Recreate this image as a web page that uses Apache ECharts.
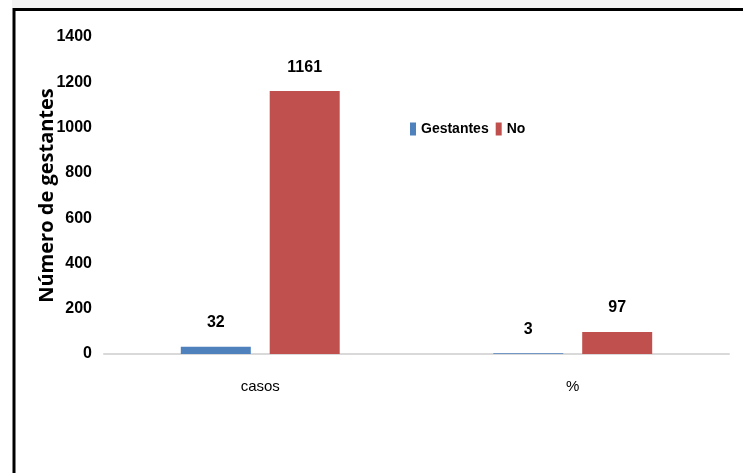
<!DOCTYPE html>
<html>
<head>
<meta charset="utf-8">
<script src="https://cdn.jsdelivr.net/npm/echarts@6/dist/echarts.min.js"></script>
<style>
  html, body { margin: 0; padding: 0; background: #ffffff; }
  #chart { width: 743px; height: 473px; }
</style>
</head>
<body>
<div id="chart"></div>
<script>
// Categories and series values
const categories = ['casos', '%'];
const gestantes = [32, 3];
const noGestantes = [1161, 97];
const seriesNames = ['Gestantes', 'No'];
const yTicks = { min: 0, max: 1400, interval: 200 };
const yAxisTitle = 'Número de gestantes';

const sans = "'Liberation Sans', Arial, sans-serif";

const chart = echarts.init(document.getElementById('chart'), null, { renderer: 'canvas' });

const valueLabel = {
  show: true,
  position: 'top',
  distance: 16,
  color: '#000000',
  fontFamily: sans,
  fontWeight: 'bold',
  fontSize: 16
};

chart.setOption({
  backgroundColor: '#ffffff',
  animation: false,
  graphic: [
    { type: 'rect', shape: { x: 12, y: 0, width: 718, height: 8 }, style: { fill: '#f4f4f4' }, silent: true },
    { type: 'line', shape: { x1: 13, y1: 9.5, x2: 743, y2: 9.5 }, style: { stroke: '#000000', lineWidth: 3 }, silent: true },
    { type: 'line', shape: { x1: 14, y1: 8, x2: 14, y2: 473 }, style: { stroke: '#000000', lineWidth: 3 }, silent: true }
  ],
  legend: {
    data: seriesNames,
    left: 405,
    top: 117,
    itemWidth: 6,
    itemHeight: 13,
    itemGap: 7,
    icon: 'rect',
    textStyle: { fontFamily: sans, fontWeight: 'bold', fontSize: 14, color: '#000000' }
  },
  grid: { left: 104, right: 14, top: 37, bottom: 119, containLabel: false },
  xAxis: {
    type: 'category',
    data: categories,
    axisLine: { show: true, lineStyle: { color: '#d9d9d9', width: 2 } },
    axisTick: { show: false },
    axisLabel: { margin: 25, color: '#000000', fontFamily: sans, fontSize: 15 }
  },
  yAxis: {
    type: 'value',
    min: yTicks.min,
    max: yTicks.max,
    interval: yTicks.interval,
    name: yAxisTitle,
    nameLocation: 'middle',
    nameGap: 47,
    nameMoveOverlap: false,
    nameTextStyle: { fontFamily: "'Open Sans', sans-serif", fontWeight: 'bold', fontSize: 20, color: '#000000' },
    axisLine: { show: false },
    axisTick: { show: false },
    splitLine: { show: false },
    axisLabel: {
      margin: 12,
      color: '#000000',
      fontFamily: sans,
      fontWeight: 'bold',
      fontSize: 16,
      formatter: function (v) { return String(v); }
    }
  },
  series: [
    {
      name: seriesNames[0],
      type: 'bar',
      data: gestantes,
      barWidth: 70,
      barGap: '27%',
      itemStyle: { color: '#4f81bd' },
      label: valueLabel
    },
    {
      name: seriesNames[1],
      type: 'bar',
      data: noGestantes,
      barWidth: 70,
      barGap: '27%',
      itemStyle: { color: '#c0504d' },
      label: valueLabel
    }
  ]
});
</script>
</body>
</html>
